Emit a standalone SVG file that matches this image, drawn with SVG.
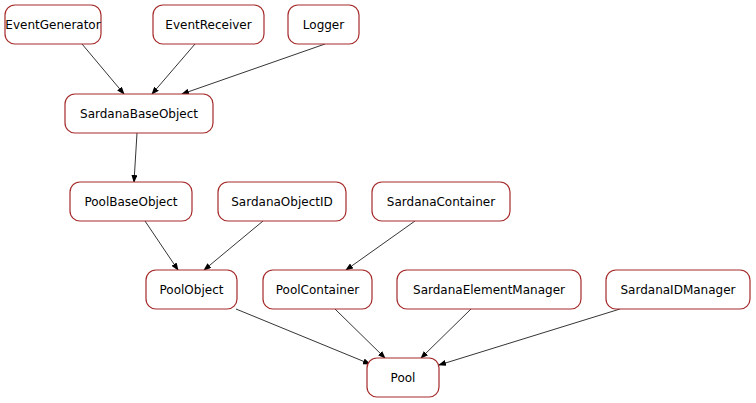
<svg xmlns="http://www.w3.org/2000/svg" width="756" height="403" viewBox="0 0 756 403">
<style>
.n rect{fill:#fff;stroke:#a52a2a;stroke-width:1.2}
.n text{font-family:"DejaVu Sans",sans-serif;font-size:12px;fill:#000;text-anchor:middle;dominant-baseline:central}
.e line{stroke:#000;stroke-width:0.8;marker-end:url(#a)}
</style>
<defs><marker id="a" markerWidth="8" markerHeight="6" refX="7" refY="3" orient="auto" markerUnits="userSpaceOnUse"><path d="M0,0L8,3L0,6z" fill="#000"/></marker></defs>
<rect width="756" height="403" fill="#fff"/>
<g class="e">
<line x1="82" y1="44" x2="124" y2="94"/>
<line x1="195" y1="44" x2="152" y2="94"/>
<line x1="325" y1="44" x2="182" y2="94"/>
<line x1="137" y1="133" x2="134" y2="182"/>
<line x1="145" y1="221" x2="178" y2="270"/>
<line x1="263" y1="221" x2="204" y2="270"/>
<line x1="415" y1="221" x2="346" y2="270"/>
<line x1="236" y1="309" x2="370" y2="364"/>
<line x1="335" y1="309" x2="385" y2="358"/>
<line x1="471" y1="309" x2="421" y2="358"/>
<line x1="620" y1="309" x2="439" y2="365"/>
</g>
<g id="EventGenerator" class="n"><rect x="5" y="5" width="96" height="39" rx="10"/><text x="53" y="24.5">EventGenerator</text></g>
<g id="EventReceiver" class="n"><rect x="153" y="5" width="111" height="39" rx="10"/><text x="208.5" y="24.5">EventReceiver</text></g>
<g id="Logger" class="n"><rect x="288" y="5" width="71" height="39" rx="10"/><text x="323.5" y="24.5">Logger</text></g>
<g id="SardanaBaseObject" class="n"><rect x="65" y="94" width="148" height="39" rx="10"/><text x="139" y="113.5">SardanaBaseObject</text></g>
<g id="PoolBaseObject" class="n"><rect x="70" y="182" width="122" height="39" rx="10"/><text x="131" y="201.5">PoolBaseObject</text></g>
<g id="SardanaObjectID" class="n"><rect x="218" y="182" width="128" height="39" rx="10"/><text x="282" y="201.5">SardanaObjectID</text></g>
<g id="SardanaContainer" class="n"><rect x="372" y="182" width="138" height="39" rx="10"/><text x="441" y="201.5">SardanaContainer</text></g>
<g id="PoolObject" class="n"><rect x="146" y="270" width="91" height="39" rx="10"/><text x="191.5" y="289.5">PoolObject</text></g>
<g id="PoolContainer" class="n"><rect x="263" y="270" width="109" height="39" rx="10"/><text x="317.5" y="289.5">PoolContainer</text></g>
<g id="SardanaElementManager" class="n"><rect x="397" y="270" width="184" height="39" rx="10"/><text x="489" y="289.5">SardanaElementManager</text></g>
<g id="SardanaIDManager" class="n"><rect x="606" y="270" width="144" height="39" rx="10"/><text x="678" y="289.5">SardanaIDManager</text></g>
<g id="Pool" class="n"><rect x="367" y="358" width="72" height="39" rx="10"/><text x="403" y="377.5">Pool</text></g>
</svg>
